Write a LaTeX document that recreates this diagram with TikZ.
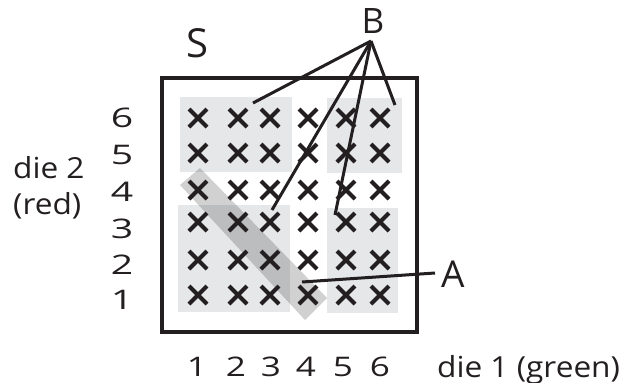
\documentclass[tikz,border=0pt]{standalone}
\usepackage{fontspec}
\setmainfont{Open Sans}
\newfontfamily\digitfont[FakeStretch=1.3]{Open Sans}
\newfontfamily\rowdigitfont[FakeStretch=1.45]{Open Sans}
\newfontfamily\labelfont[FakeStretch=1.09]{Open Sans}
\usetikzlibrary{shapes.misc}
\definecolor{ink}{HTML}{231F20}
\definecolor{lightbox}{HTML}{E6E7E8}
\tikzset{
  xmark/.style={cross out, draw=ink, line width=4pt, minimum size=14pt, inner sep=0pt},
  lightarea/.style={fill=lightbox, draw=none},
  band/.style={fill=black, fill opacity=0.18, draw=none},
  frame/.style={draw=ink, line width=3.4pt},
  pointer/.style={draw=ink, line width=3pt},
  digit/.style={text=ink, inner sep=0pt, anchor=base, font=\digitfont\fontsize{27}{30}\selectfont},
  rowdigit/.style={text=ink, inner sep=0pt, anchor=base, font=\rowdigitfont\fontsize{27}{30}\selectfont},
  axislabel/.style={text=ink, inner sep=0pt, anchor=base west, font=\labelfont\fontsize{29}{34}\selectfont},
  letter/.style={text=ink, inner sep=0pt, anchor=base}
}
\begin{document}
\begin{tikzpicture}[x=1pt,y=-1pt]
\useasboundingbox (0,0) rectangle (625,383);
% light areas
\path[lightarea] (180,97) rectangle (292,172);
\path[lightarea] (327,98) rectangle (402,173);
\path[lightarea] (178,205) rectangle (290,312);
\path[lightarea] (327,208) rectangle (398,313);
% diagonal band A
\path[band] (180,185) -- (200,168) -- (327,298) -- (305,320) -- cycle;
% crosses
\foreach \x [count=\i] in {198,238,270,308,346,380}
  \foreach \y [count=\j] in {295,260,222,190,153,118}
    \node[xmark] (x\i\j) at (\x,\y) {};
% frame S
\path[frame] (162,78) rectangle (417,332);
% labels
\node[letter, font=\fontsize{40}{44}\selectfont] (S) at (197.5,57) {S};
\node[letter, font=\fontsize{35}{40}\selectfont] (B) at (373,33) {B};
\node[letter, font=\fontsize{37}{42}\selectfont] (A) at (453.5,287) {A};
\coordinate (Bapex) at (371,41);
\coordinate (b1) at (253,103);
\coordinate (b2) at (272,210);
\coordinate (b3) at (335,215);
\coordinate (b4) at (395,105);
\coordinate (a1) at (302,282);
\coordinate (aend) at (435,273);
\draw[pointer] (Bapex) -- (b1);
\draw[pointer] (Bapex) -- (b2);
\draw[pointer] (Bapex) -- (b3);
\draw[pointer] (Bapex) -- (b4);
\draw[pointer] (a1) -- (aend);
% row digits
\foreach \yb [count=\j] in {309,274,238,201,164,127.5}
  \node[rowdigit] (r\j) at (122,\yb) {\j};
% column digits
\foreach \xb [count=\i] in {197,236,271,306,343,380}
  \node[digit] (c\i) at (\xb,376) {\i};
\node[axislabel] (die1) at (437,377) {die 1 (green)};
\node[axislabel] (die2) at (13,178) {die 2};
\node[axislabel] (red) at (13,214) {(red)};
\end{tikzpicture}
\end{document}
